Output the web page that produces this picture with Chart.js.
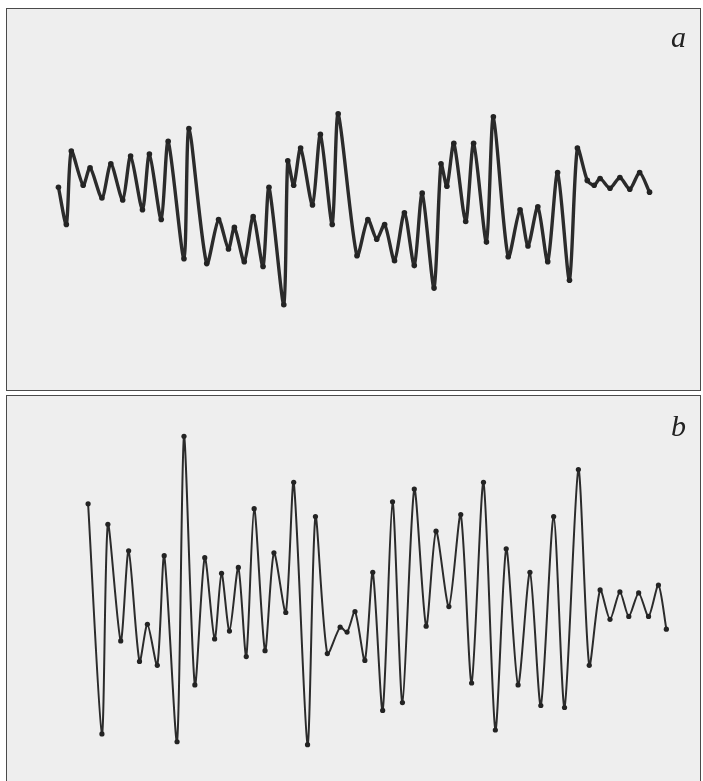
<!DOCTYPE html>
<html>
<head>
<meta charset="utf-8">
<script src="https://cdn.jsdelivr.net/npm/chart.js@4.4.1/dist/chart.umd.min.js"></script>
<style>
  html, body { margin: 0; padding: 0; background: #ffffff; }
  body { width: 703px; height: 781px; position: relative; overflow: hidden; }
  .panel { position: absolute; left: 6px; width: 693px; border: 1px solid #4a4a4a; background: #eeeeee; }
  #pa { top: 8px; height: 381px; }
  #pb { top: 395px; height: 385px; border-bottom: none; }
  .panel canvas { position: absolute; left: 0; top: 0; }
  .lab { position: absolute; font-family: "Liberation Serif", "DejaVu Serif", serif; font-style: italic; font-size: 30px; color: #222; line-height: 1; }
</style>
</head>
<body>
<div class="panel" id="pa"><canvas id="ca" width="693" height="381"></canvas></div>
<div class="panel" id="pb"><canvas id="cb" width="693" height="385"></canvas></div>
<div class="lab" style="left:671px; top:22px;">a</div>
<div class="lab" style="left:671px; top:411px;">b</div>
<script>
// Trace a: time (arbitrary units) and amplitude (arbitrary units)
const aTime = [48,56,61,73,80,92,101,113,121,133,140,152,159,175,180,198,210,220,226,236,245,255,261,276,280,286,293,305,313,325,331,350,361,370,378,388,398,408,416,428,435,441,448,460,468,481,488,503,515,523,533,543,553,565,573,583,590,596,606,616,626,636,646];
const aAmp  = [13,-25,50,15,33,2,37,0,45,-10,47,-20,60,-60,73,-65,-20,-50,-28,-63,-17,-68,13,-107,40,15,53,-5,67,-25,88,-57,-20,-40,-25,-62,-13,-67,7,-90,37,14,58,-22,58,-43,85,-58,-10,-47,-7,-63,28,-82,53,20,15,22,12,23,11,28,8];

// Trace b
const bTime = [78,92,98,111,119,130,138,148,155,168,175,186,196,206,213,221,230,238,246,257,266,278,286,300,308,320,333,340,348,358,366,376,386,396,408,420,430,443,455,466,478,490,501,513,525,536,549,560,574,585,596,606,616,625,635,645,655,663];
const bAmp  = [87,-148,66,-53,39,-74,-36,-78,34,-156,156,-98,32,-51,16,-43,22,-69,82,-63,37,-24,109,-159,74,-66,-39,-44,-23,-73,17,-124,89,-116,102,-38,59,-18,76,-96,109,-144,41,-98,17,-119,74,-121,122,-78,-1,-31,-3,-28,-4,-28,4,-41];

function pts(t, v) { return t.map((x, i) => ({ x: x, y: v[i] })); }

function makeChart(id, t, v, ymin, ymax, xmax, lw, pr) {
  new Chart(document.getElementById(id), {
    type: 'scatter',
    data: { datasets: [{
      data: pts(t, v),
      showLine: true,
      borderColor: '#2b2b2b',
      backgroundColor: '#232323',
      borderWidth: lw,
      pointRadius: pr,
      pointBorderWidth: 0,
      tension: 0.25,
      borderJoinStyle: 'round',
      borderCapStyle: 'round',
      fill: false
    }]},
    options: {
      responsive: false,
      animation: false,
      layout: { padding: 0 },
      plugins: { legend: { display: false }, tooltip: { enabled: false } },
      scales: {
        x: { type: 'linear', min: 0, max: xmax, display: false },
        y: { type: 'linear', min: ymin, max: ymax, display: false }
      }
    }
  });
}

makeChart('ca', aTime, aAmp, -190, 191, 693, 3.4, 2.8);
makeChart('cb', bTime, bAmp, -192, 193, 693, 2, 2.6);
</script>
</body>
</html>
